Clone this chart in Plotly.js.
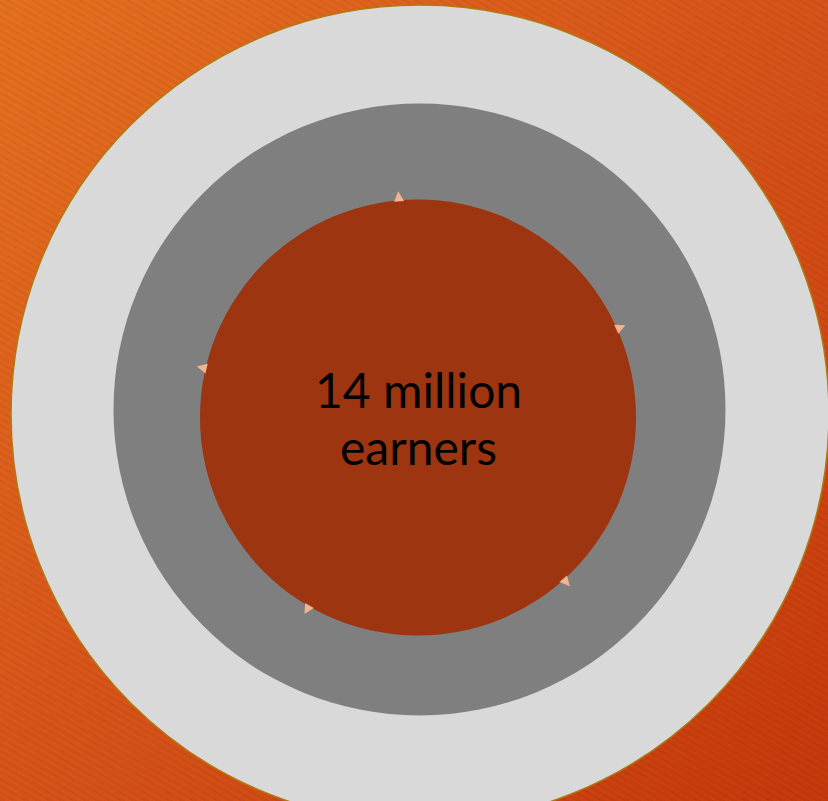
<!DOCTYPE html>
<html>
<head>
<meta charset="utf-8">
<script src="https://cdn.plot.ly/plotly-3.0.1.min.js"></script>
<style>
  html, body { margin: 0; padding: 0; }
  body {
    width: 828px; height: 801px; overflow: hidden;
    background:
      repeating-linear-gradient(30deg, rgba(0,0,0,0.045) 0px, rgba(0,0,0,0.045) 3px, rgba(0,0,0,0) 3px, rgba(0,0,0,0) 6px),
      linear-gradient(135deg, #E6711F 0%, #D9561A 45%, #C7390B 100%);
  }
  #chart { width: 828px; height: 801px; }
</style>
</head>
<body>
<div id="chart"></div>
<script>
// Rings, outer to inner
const ringNames   = ["outer", "middle", "inner"];
const ringCenterX = [420, 419.5, 418];
const ringCenterY = [414, 409.5, 417.5];
const ringRadius  = [409, 306, 218];
const ringColors  = ["#D9D9D9", "#7F7F7F", "#9D3511"];
const ringLine    = ["#B07A12", "rgba(0,0,0,0)", "rgba(0,0,0,0)"];

// Centre label
const centerLabel = ["14 million", "earners"];
const labelY      = [389, 446];

// Small spikes around the inner circle (degrees clockwise from top)
const spikeAngles = [355, 66, 138, 210, 283];
const spikeRadius = 227;

const shapes = ringNames.map((n, i) => ({
  type: "circle", xref: "x", yref: "y", layer: "below",
  x0: ringCenterX[i] - ringRadius[i], x1: ringCenterX[i] + ringRadius[i],
  y0: ringCenterY[i] - ringRadius[i], y1: ringCenterY[i] + ringRadius[i],
  fillcolor: ringColors[i],
  line: { color: ringLine[i], width: i === 0 ? 1.5 : 0 }
}));

const cx = ringCenterX[2], cy = ringCenterY[2];
const spikeX = spikeAngles.map(a => cx + spikeRadius * Math.sin(a * Math.PI / 180));
const spikeY = spikeAngles.map(a => cy - spikeRadius * Math.cos(a * Math.PI / 180));

const spikes = {
  type: "scatter", mode: "markers",
  x: spikeX, y: spikeY,
  hoverinfo: "skip",
  marker: {
    symbol: "arrow-up", size: 10, angle: spikeAngles,
    color: "#F2B48E", line: { width: 0 }
  }
};

const annotations = centerLabel.map((t, i) => ({
  x: cx, y: labelY[i], xref: "x", yref: "y",
  text: t, showarrow: false,
  xanchor: "center", yanchor: "middle",
  font: { family: "Lato, 'DejaVu Sans', sans-serif", size: 48, color: "#000000" }
}));

const layout = {
  width: 828, height: 801,
  margin: { l: 0, r: 0, t: 0, b: 0, pad: 0 },
  paper_bgcolor: "rgba(0,0,0,0)",
  plot_bgcolor: "rgba(0,0,0,0)",
  xaxis: { range: [0, 828], visible: false, fixedrange: true },
  yaxis: { range: [801, 0], visible: false, fixedrange: true },
  showlegend: false,
  shapes: shapes,
  annotations: annotations
};

Plotly.newPlot("chart", [spikes], layout, { displayModeBar: false, staticPlot: true });
</script>
</body>
</html>
